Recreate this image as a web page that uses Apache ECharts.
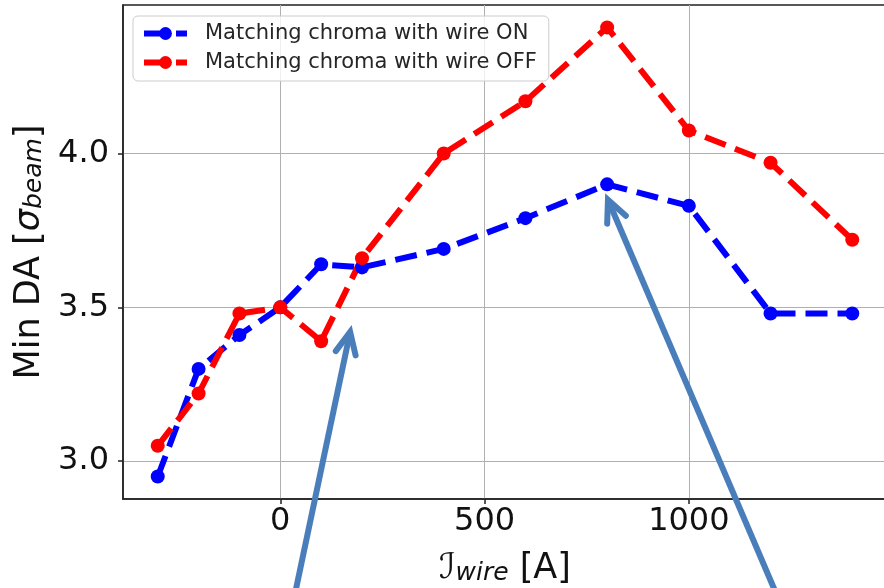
<!DOCTYPE html>
<html>
<head>
<meta charset="utf-8">
<script src="https://cdn.jsdelivr.net/npm/echarts@6/dist/echarts.min.js"></script>
<style>
  html, body { margin: 0; padding: 0; background: #ffffff; }
  #chart { width: 884px; height: 588px; }
</style>
</head>
<body>
<div id="chart"></div>
<script>
// Wire current scan [A]
const currents = [-300, -200, -100, 0, 100, 200, 400, 600, 800, 1000, 1200, 1400];
// Minimum dynamic aperture [sigma_beam]
const daWireOn  = [2.95, 3.30, 3.41, 3.50, 3.64, 3.63, 3.69, 3.79, 3.90, 3.83, 3.48, 3.48];
const daWireOff = [3.05, 3.22, 3.48, 3.50, 3.39, 3.66, 4.00, 4.17, 4.41, 4.075, 3.97, 3.72];
const seriesNames = ['Matching chroma with wire ON', 'Matching chroma with wire OFF'];
const xTicks = [0, 500, 1000];
const yTicks = [3.0, 3.5, 4.0];
// Callout arrows, [tail, tip] in data units
const calloutArrows = [
  [[33, 2.55], [171, 3.42]],
  [[1220, 2.55], [802, 3.85]]
];

const FONT = 'DejaVu Sans';
const chart = echarts.init(document.getElementById('chart'), null, { renderer: 'canvas' });

function pairs(xs, ys) { return xs.map((x, i) => [x, ys[i]]); }

function lineSeries(name, values, color) {
  return {
    name: name,
    type: 'line',
    data: pairs(currents, values),
    symbol: 'circle',
    symbolSize: 14,
    showAllSymbol: true,
    clip: false,
    itemStyle: { color: color, borderWidth: 0 },
    lineStyle: { color: color, width: 6, type: [22, 10], cap: 'butt' },
    emphasis: { disabled: true },
    animation: false
  };
}

const axisColor = '#222222';
const option = {
  backgroundColor: '#ffffff',
  animation: false,
  grid: {
    left: 123, top: 5, width: 764, height: 494,
    outerBoundsMode: 'none', containLabel: false,
    show: true, borderColor: axisColor, borderWidth: 1.5, backgroundColor: 'transparent'
  },
  legend: {
    orient: 'vertical',
    left: 133, top: 16,
    itemWidth: 43, itemHeight: 16, itemGap: 8,
    padding: [7, 12, 8, 8],
    backgroundColor: 'rgba(255,255,255,0.8)',
    borderColor: '#cccccc', borderWidth: 1, borderRadius: 5,
    lineStyle: { width: 6, type: [22, 10], cap: 'butt' },
    textStyle: { fontFamily: FONT, fontSize: 21, color: '#262626', padding: [0, 0, 0, 13] },
    data: seriesNames
  },
  xAxis: {
    type: 'value', min: -385, max: 1485,
    axisLine: { show: true, onZero: false, lineStyle: { color: axisColor, width: 1.5 } },
    axisTick: { show: true, length: 5, customValues: xTicks, lineStyle: { color: axisColor, width: 1.5 } },
    axisLabel: { customValues: xTicks, fontFamily: FONT, fontSize: 32, color: '#111111', margin: 7,
                 formatter: v => String(v) },
    splitLine: { show: true, lineStyle: { color: '#b0b0b0', width: 1 } },
    name: '{c|ℐ}{s|wire} [A]',
    nameLocation: 'middle', nameGap: 52,
    nameTextStyle: {
      fontFamily: FONT, fontSize: 35, color: '#111111',
      rich: {
        c: { fontFamily: FONT, fontSize: 35, fontStyle: 'italic', color: '#111111' },
        s: { fontFamily: FONT, fontSize: 25, fontStyle: 'italic', color: '#111111', verticalAlign: 'bottom', padding: [10, 0, 0, 0] }
      }
    }
  },
  yAxis: {
    type: 'value', min: 2.877, max: 4.483,
    axisLine: { show: true, onZero: false, lineStyle: { color: axisColor, width: 1.5 } },
    axisTick: { show: true, length: 5, customValues: yTicks, lineStyle: { color: axisColor, width: 1.5 } },
    axisLabel: { customValues: yTicks, fontFamily: FONT, fontSize: 32, color: '#111111', margin: 14,
                 formatter: v => v.toFixed(1) },
    splitLine: { show: true, lineStyle: { color: '#b0b0b0', width: 1 } },
    name: 'Min DA [{g|σ}{s|beam}]',
    nameLocation: 'middle', nameGap: 76, nameRotate: 90,
    nameTextStyle: {
      fontFamily: FONT, fontSize: 35, color: '#111111',
      rich: {
        g: { fontFamily: FONT, fontSize: 35, fontStyle: 'italic', color: '#111111' },
        s: { fontFamily: FONT, fontSize: 25, fontStyle: 'italic', color: '#111111', verticalAlign: 'bottom', padding: [10, 0, 0, 0] }
      }
    }
  },
  series: [
    lineSeries(seriesNames[0], daWireOn, '#0000ff'),
    lineSeries(seriesNames[1], daWireOff, '#ff0000')
  ]
};

chart.setOption(option);

// Callout arrows drawn through the grid's coordinate system
function arrowGraphics(tailData, tipData) {
  const tail = chart.convertToPixel({ gridIndex: 0 }, tailData);
  const tip = chart.convertToPixel({ gridIndex: 0 }, tipData);
  const dx = tail[0] - tip[0], dy = tail[1] - tip[1];
  const len = Math.hypot(dx, dy);
  const ux = dx / len, uy = dy / len;
  const headLen = 24, half = 25 * Math.PI / 180;
  const rot = (a) => [ux * Math.cos(a) - uy * Math.sin(a), ux * Math.sin(a) + uy * Math.cos(a)];
  const r1 = rot(half), r2 = rot(-half);
  const color = '#4a7ebb';
  return [
    {
      type: 'line', silent: true, z: 100,
      shape: { x1: tail[0], y1: tail[1], x2: tip[0] + ux * 3, y2: tip[1] + uy * 3 },
      style: { stroke: color, lineWidth: 6, lineCap: 'butt' }
    },
    {
      type: 'polyline', silent: true, z: 100,
      shape: { points: [[tip[0] + r1[0] * headLen, tip[1] + r1[1] * headLen], tip,
                        [tip[0] + r2[0] * headLen, tip[1] + r2[1] * headLen]] },
      style: { stroke: color, lineWidth: 6, fill: null, lineJoin: 'miter', lineCap: 'round' }
    }
  ];
}

let graphics = [];
calloutArrows.forEach(a => { graphics = graphics.concat(arrowGraphics(a[0], a[1])); });
chart.setOption({ graphic: graphics });
</script>
</body>
</html>
